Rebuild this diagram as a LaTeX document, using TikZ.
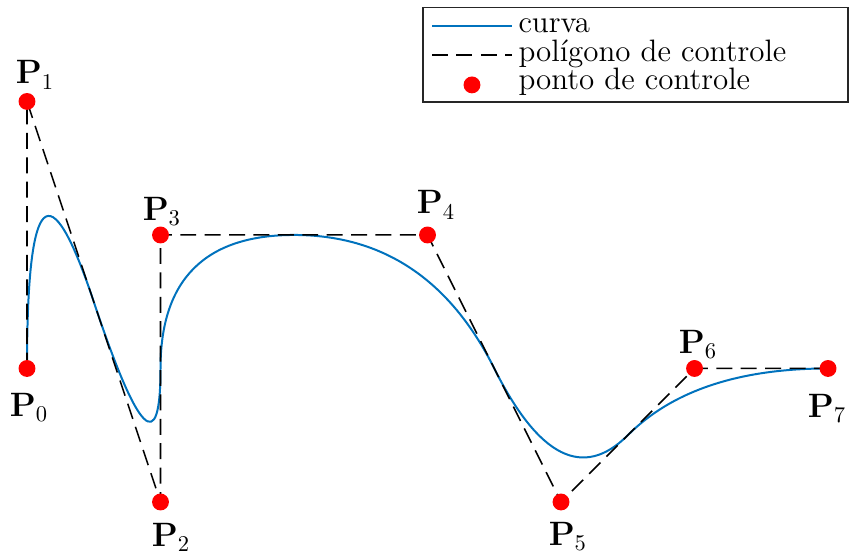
\documentclass[tikz,border=0pt]{standalone}
\usepackage{amsmath}
\usepackage{xcolor}
\usetikzlibrary{calc}

\definecolor{curveblue}{rgb}{0,0.447,0.741}
\newcommand{\ptname}[1]{$\mathbf{P}_{\mbox{\fontsize{9.6}{10}\selectfont #1}}$}

\begin{document}
\begin{tikzpicture}[
  x=2cm, y=2cm,
  curve/.style={curveblue, line width=0.85pt},
  polygon/.style={black, line width=0.65pt, dash pattern=on 6.8pt off 3.6pt},
  ctrlpt/.style={circle, fill=red, inner sep=0pt, minimum size=7.2pt},
  lbl/.style={inner sep=0pt, font=\fontsize{13.4}{16}\selectfont},
  legbox/.style={draw=black!85, line width=0.5pt},
  legtext/.style={anchor=base west, inner sep=0pt, font=\fontsize{13.2}{15}\selectfont}
]
  \useasboundingbox (-0.2022,-0.382) rectangle (6.157,3.760);

  % control points
  \coordinate (c0) at (0,1);
  \coordinate (c1) at (0,3);
  \coordinate (c2) at (1,0);
  \coordinate (c3) at (1,2);
  \coordinate (c4) at (3,2);
  \coordinate (c5) at (4,0);
  \coordinate (c6) at (5,1);
  \coordinate (c7) at (6,1);

  % knots of the quadratic spline (midpoints of the legs)
  \coordinate (m12) at ($(c1)!0.5!(c2)$);
  \coordinate (m23) at ($(c2)!0.5!(c3)$);
  \coordinate (m34) at ($(c3)!0.5!(c4)$);
  \coordinate (m45) at ($(c4)!0.5!(c5)$);
  \coordinate (m56) at ($(c5)!0.5!(c6)$);

  % curve
  \draw[curve] (c0)
    .. controls ($(c0)!2/3!(c1)$) and ($(m12)!2/3!(c1)$) .. (m12)
    .. controls ($(m12)!2/3!(c2)$) and ($(m23)!2/3!(c2)$) .. (m23)
    .. controls ($(m23)!2/3!(c3)$) and ($(m34)!2/3!(c3)$) .. (m34)
    .. controls ($(m34)!2/3!(c4)$) and ($(m45)!2/3!(c4)$) .. (m45)
    .. controls ($(m45)!2/3!(c5)$) and ($(m56)!2/3!(c5)$) .. (m56)
    .. controls ($(m56)!2/3!(c6)$) and ($(c7)!2/3!(c6)$) .. (c7);

  % control polygon
  \draw[polygon] (c0) -- (c1) -- (c2) -- (c3) -- (c4) -- (c5) -- (c6) -- (c7);

  \foreach \i in {0,...,7}
    \node[ctrlpt] (p\i) at (c\i) {};

  % labels
  \node[lbl] (l0) at (0.015,0.704) {\ptname{0}};
  \node[lbl] (l1) at (0.060,3.199) {\ptname{1}};
  \node[lbl] (l2) at (1.079,-0.262) {\ptname{2}};
  \node[lbl] (l3) at (1.011,2.172) {\ptname{3}};
  \node[lbl] (l4) at (3.064,2.225) {\ptname{4}};
  \node[lbl] (l5) at (4.052,-0.262) {\ptname{5}};
  \node[lbl] (l6) at (5.026,1.176) {\ptname{6}};
  \node[lbl] (l7) at (5.993,0.697) {\ptname{7}};

  % legend
  \draw[legbox, fill=white] (2.966,2.996) rectangle (6.150,3.704);
  \draw[curve] (3.034,3.566) -- (3.633,3.566);
  \draw[polygon] (3.034,3.348) -- (3.633,3.348);
  \node[ctrlpt] (legpt) at (3.333,3.124) {};
  \node[legtext] (t1) at (3.678,3.513) {curva};
  \node[legtext] (t2) at (3.678,3.296) {pol\'igono de controle};
  \node[legtext] (t3) at (3.678,3.086) {ponto de controle};
\end{tikzpicture}
\end{document}
